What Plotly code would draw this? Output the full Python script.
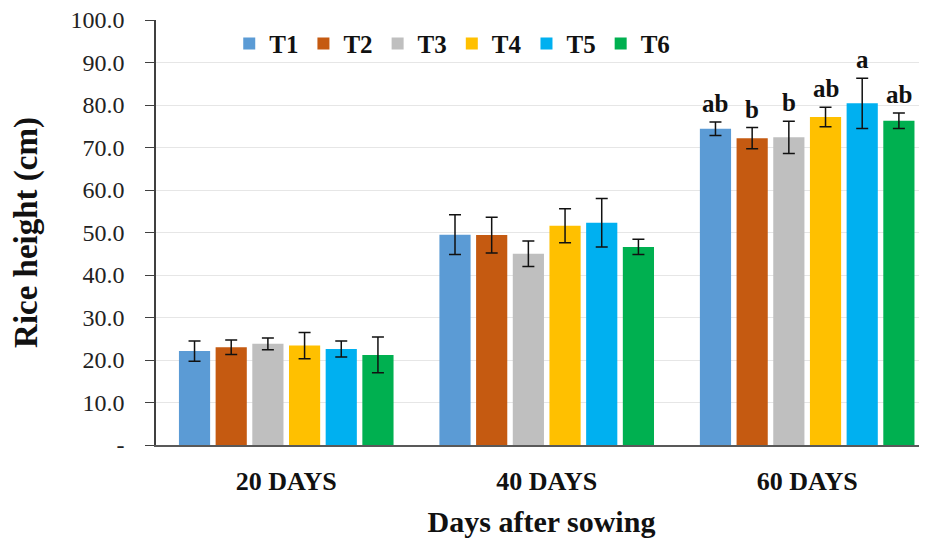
import plotly.graph_objects as go

categories = ["20 DAYS", "40 DAYS", "60 DAYS"]
treatments = ["T1", "T2", "T3", "T4", "T5", "T6"]
colors = ["#5B9BD5", "#C55A11", "#BFBFBF", "#FFC000", "#00B0F0", "#00B050"]

t1 = [22.1, 49.5, 74.4]
t2 = [23.0, 49.4, 72.2]
t3 = [23.8, 45.0, 72.4]
t4 = [23.4, 51.6, 77.2]
t5 = [22.6, 52.3, 80.4]
t6 = [21.2, 46.6, 76.3]
values = [t1, t2, t3, t4, t5, t6]

e1 = [2.4, 4.7, 1.6]
e2 = [1.7, 4.2, 2.5]
e3 = [1.4, 3.0, 3.8]
e4 = [3.1, 4.0, 2.3]
e5 = [1.9, 5.7, 5.9]
e6 = [4.2, 1.8, 1.8]
errors = [e1, e2, e3, e4, e5, e6]

letters_60 = ["ab", "b", "b", "ab", "a", "ab"]

ytickvals = [0, 10, 20, 30, 40, 50, 60, 70, 80, 90, 100]
yticktext = ["-", "10.0", "20.0", "30.0", "40.0", "50.0", "60.0", "70.0", "80.0", "90.0", "100.0"]

FONT = "Liberation Serif, Times New Roman, serif"
bargap = 0.155

fig = go.Figure()
for name, col, v, e in zip(treatments, colors, values, errors):
    fig.add_trace(go.Bar(
        name=name, x=categories, y=v, marker=dict(color=col, line=dict(width=0)),
        error_y=dict(type="data", array=e, visible=True, color="#111111", thickness=1.5, width=6),
    ))

n = len(treatments)
slot = (1 - bargap) / n
for i, (lab, v, e) in enumerate(zip(letters_60, values, errors)):
    xpos = 2 - (1 - bargap) / 2 + (i + 0.5) * slot
    fig.add_annotation(x=xpos, y=v[2] + e[2], xref="x", yref="y", text="<b>%s</b>" % lab,
                       showarrow=False, yanchor="bottom", yshift=3,
                       font=dict(family=FONT, size=25, color="#111111"))

fig.update_layout(
    width=927, height=540,
    margin=dict(l=148, r=8, t=12, b=103),
    barmode="group", bargap=bargap, bargroupgap=0.15,
    plot_bgcolor="white", paper_bgcolor="white",
    font=dict(family=FONT, color="#222222"),
    legend=dict(orientation="h", x=0.095, xanchor="left", y=0.944, yanchor="middle",
                font=dict(family=FONT, size=25, color="#111111", weight="bold"),
                bgcolor="rgba(0,0,0,0)", itemwidth=30, tracegroupgap=0),
    showlegend=True,
)
fig.update_xaxes(
    type="category", range=[-0.5, 2.46], automargin=False,
    showline=True, linecolor="#595959", linewidth=1.5,
    ticks="", tickfont=dict(family=FONT, size=26, color="#111111", weight="bold"),
    ticklabelstandoff=12,
    title=dict(text="<b>Days after sowing</b>", font=dict(family=FONT, size=30, color="#111111"), standoff=16),
)
fig.update_yaxes(
    range=[0, 100], tickvals=ytickvals, ticktext=yticktext, automargin=False,
    showline=True, linecolor="#404040", linewidth=1.5,
    ticks="outside", ticklen=9, tickcolor="#404040",
    showgrid=True, gridcolor="#E6E6E6", gridwidth=1, zeroline=False,
    tickfont=dict(family=FONT, size=24, color="#222222"),
    ticklabelstandoff=16, ticklabeloverflow="allow",
    title=dict(text="<b>Rice height (cm)</b>", font=dict(family=FONT, size=33, color="#111111"), standoff=25),
)

fig.write_html("out.html")
